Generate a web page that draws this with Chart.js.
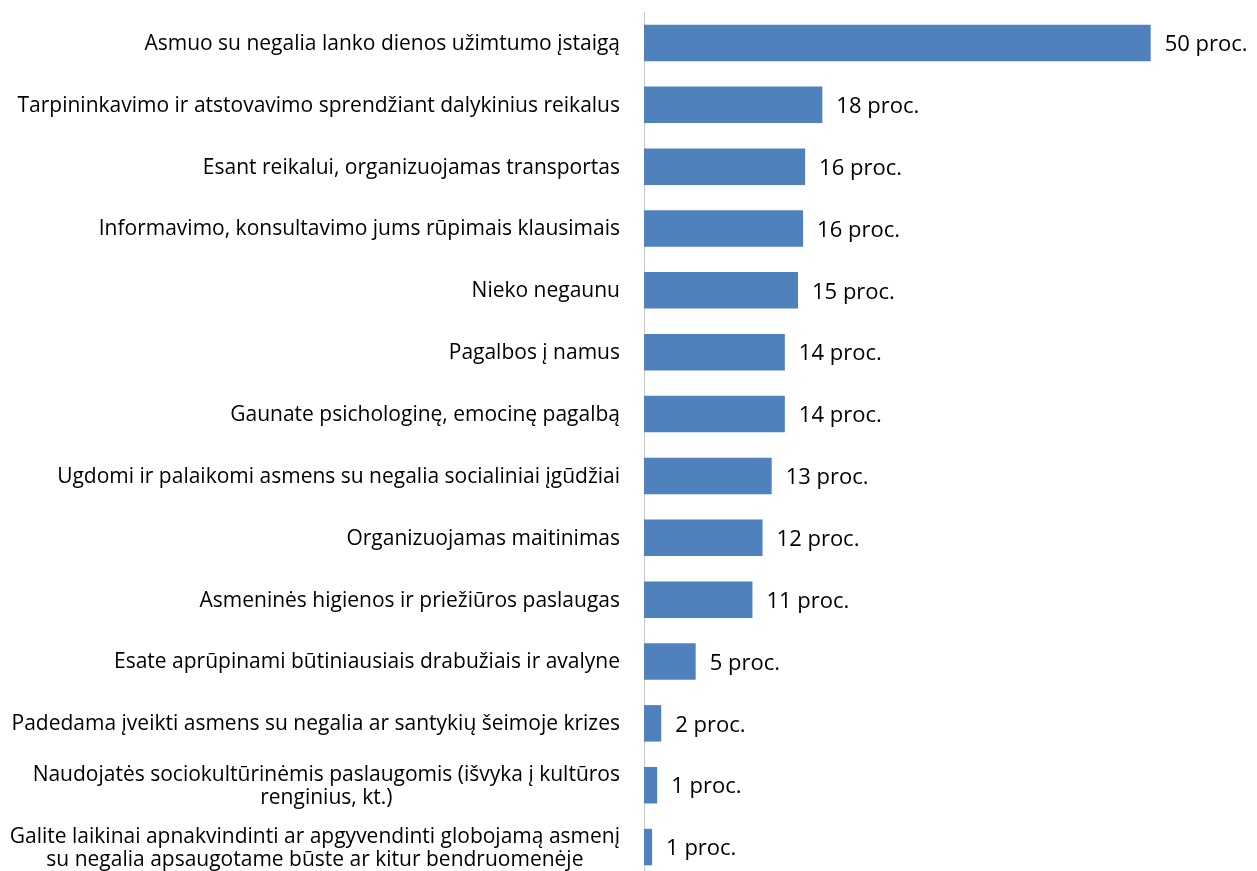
<!DOCTYPE html>
<html><head><meta charset="utf-8">
<script src="https://cdn.jsdelivr.net/npm/chart.js@4"></script>
<style>html,body{margin:0;padding:0;background:#fff;overflow:hidden}#wrap{width:1257px;height:880px;position:relative}</style>
</head><body><div id="wrap"><canvas id="c"></canvas></div>
<script>
const categories = [
  ["Asmuo su negalia lanko dienos užimtumo įstaigą"],
  ["Tarpininkavimo ir atstovavimo sprendžiant dalykinius reikalus"],
  ["Esant reikalui, organizuojamas transportas"],
  ["Informavimo, konsultavimo jums rūpimais klausimais"],
  ["Nieko negaunu"],
  ["Pagalbos į namus"],
  ["Gaunate psichologinę, emocinę pagalbą"],
  ["Ugdomi ir palaikomi asmens su negalia socialiniai įgūdžiai"],
  ["Organizuojamas maitinimas"],
  ["Asmeninės higienos ir priežiūros paslaugas"],
  ["Esate aprūpinami būtiniausiais drabužiais ir avalyne"],
  ["Padedama įveikti asmens su negalia ar santykių šeimoje krizes"],
  ["Naudojatės sociokultūrinėmis paslaugomis (išvyka į kultūros", "renginius, kt.)"],
  ["Galite laikinai apnakvindinti ar apgyvendinti globojamą asmenį", "su negalia apsaugotame būste ar kitur bendruomenėje"]
];
const values = [50, 17.6, 15.9, 15.7, 15.2, 13.9, 13.9, 12.6, 11.7, 10.7, 5.1, 1.7, 1.3, 0.8];
const valueSuffix = " proc.";

const FONT = "'Open Sans', sans-serif";

const labelPlugin = {
  id: 'labels',
  afterDatasetsDraw(chart) {
    const ctx = chart.ctx;
    const y = chart.scales.y;
    const meta = chart.getDatasetMeta(0);
    ctx.save();
    ctx.fillStyle = '#000';
    ctx.textBaseline = 'middle';
    ctx.font = "21px " + FONT;
    const lh = 23;
    categories.forEach((lines, i) => {
      const cy = y.getPixelForValue(i) + 1;
      const widths = lines.map(l => ctx.measureText(l).width);
      const maxW = Math.max(...widths);
      const cx = 620 - maxW / 2;
      ctx.textAlign = 'center';
      lines.forEach((l, j) => {
        ctx.fillText(l, cx, cy + (j - (lines.length - 1) / 2) * lh);
      });
    });
    ctx.font = "22px " + FONT;
    ctx.textAlign = 'left';
    meta.data.forEach((bar, i) => {
      ctx.fillText(Math.round(values[i]) + valueSuffix, bar.x + 14, bar.y + 2);
    });
    ctx.restore();
  }
};

new Chart(document.getElementById('c'), {
  type: 'bar',
  data: {
    labels: categories,
    datasets: [{
      data: values,
      backgroundColor: '#4F81BD',
      borderWidth: 0,
      barPercentage: 0.59,
      categoryPercentage: 1
    }]
  },
  options: {
    indexAxis: 'y',
    responsive: true,
    maintainAspectRatio: false,
    devicePixelRatio: 1,
    animation: false,
    layout: { padding: { top: 12, bottom: 2, right: 5, left: 0 } },
    plugins: { legend: { display: false }, tooltip: { enabled: false } },
    scales: {
      x: { display: false, min: 0, max: 60 },
      y: {
        display: true,
        grid: { display: false, drawTicks: false },
        border: { display: true, color: '#c8c8c8', width: 1 },
        ticks: { display: false },
        afterFit(scale) { scale.width = 644; }
      }
    }
  },
  plugins: [labelPlugin]
});
</script></body></html>
